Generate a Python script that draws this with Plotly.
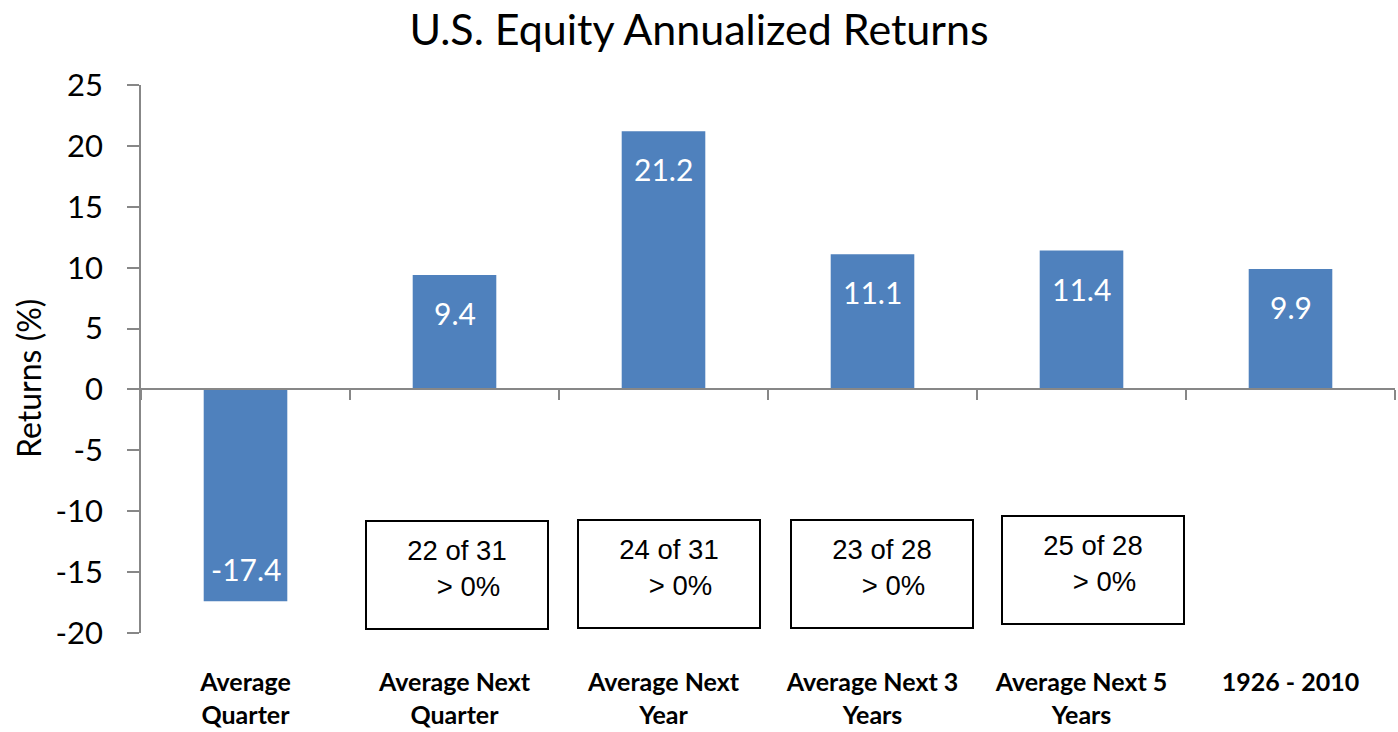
import plotly.graph_objects as go

categories = ["Average<br>Quarter", "Average Next<br>Quarter", "Average Next<br>Year",
              "Average Next 3<br>Years", "Average Next 5<br>Years", "1926 - 2010"]
returns = [-17.4, 9.4, 21.2, 11.1, 11.4, 9.9]

box_categories = categories[1:5]
box_texts = ["22 of 31", "24 of 31", "23 of 28", "25 of 28"]
box_y = [-15.2, -15.15, -15.15, -14.85]
box_xshift = [2, 5, 9, 11]

y_min, y_max, y_step = -20, 25, 5
y_ticks = list(range(y_min, y_max + 1, y_step))
y_ticktext = [str(v) for v in y_ticks]  # plain hyphen minus as in the reference

BAR = "#4F81BD"
AXIS = "#878787"
FONT = "Lato"

fig = go.Figure()
fig.add_trace(go.Bar(x=categories, y=returns, marker=dict(color=BAR, line=dict(width=0)),
                     hoverinfo="skip", showlegend=False))
# invisible trace for the zero-crossing axis
fig.add_trace(go.Scatter(x=categories, y=[0] * len(categories), xaxis="x2", mode="markers",
                         marker=dict(opacity=0), hoverinfo="skip", showlegend=False))

annotations = []
for c, v in zip(categories, returns):
    annotations.append(dict(x=c, y=v, xref="x", yref="y", text=f"{v:.1f}", showarrow=False,
                            yshift=-38 if v >= 0 else 32, yanchor="middle",
                            font=dict(family=FONT, size=30, color="white")))
for c, t, yb, xs in zip(box_categories, box_texts, box_y, box_xshift):
    annotations.append(dict(x=c, y=yb, xref="x", yref="y", xshift=xs, showarrow=False,
                            text=t + "<br>\u00a0\u00a0\u00a0> 0%", width=154, height=80,
                            valign="top", align="center", borderpad=13,
                            bordercolor="black", borderwidth=2, bgcolor="white",
                            font=dict(family="Liberation Sans", size=27.5, color="black")))
# y-axis title
annotations.append(dict(x=0, y=0.5, xref="paper", yref="paper", xshift=-113, yshift=-20,
                        text="Returns (%)", textangle=-90, showarrow=False,
                        xanchor="center", yanchor="middle",
                        font=dict(family=FONT, size=32, color="black")))

zero_pos = (0 - y_min) / (y_max - y_min)

fig.update_layout(
    width=1398, height=732,
    paper_bgcolor="white", plot_bgcolor="white",
    margin=dict(l=141, r=3, t=85, b=94),
    bargap=0.6,
    title=dict(text="U.S. Equity Annualized Returns", x=0.5, xanchor="center",
               y=1 - 30 / 732, yanchor="middle", yref="container",
               font=dict(family=FONT, size=43, color="black")),
    xaxis=dict(type="category", range=[-0.5, len(categories) - 0.5], showline=False,
               showgrid=False, zeroline=False, ticks="", ticklabelstandoff=32,
               tickfont=dict(family=FONT, size=25, color="black", weight="bold")),
    xaxis2=dict(type="category", overlaying="x", anchor="free", position=zero_pos,
                range=[-0.5, len(categories) - 0.5], showline=True, linecolor=AXIS, linewidth=1.5,
                ticks="outside", tickson="boundaries", ticklen=10, tickcolor=AXIS, tickwidth=1.5,
                showticklabels=False, showgrid=False, zeroline=False),
    yaxis=dict(range=[y_min, y_max], tickmode="array", tickvals=y_ticks, ticktext=y_ticktext,
               showgrid=False, zeroline=False,
               showline=True, linecolor=AXIS, linewidth=1.5, ticks="outside", ticklen=12,
               tickcolor=AXIS, tickwidth=1.5, ticklabelstandoff=18,
               tickfont=dict(family=FONT, size=31, color="black")),
    annotations=annotations,
)

fig.write_html("out.html", config={"displayModeBar": False},
               post_script="document.body.style.margin='0';")
